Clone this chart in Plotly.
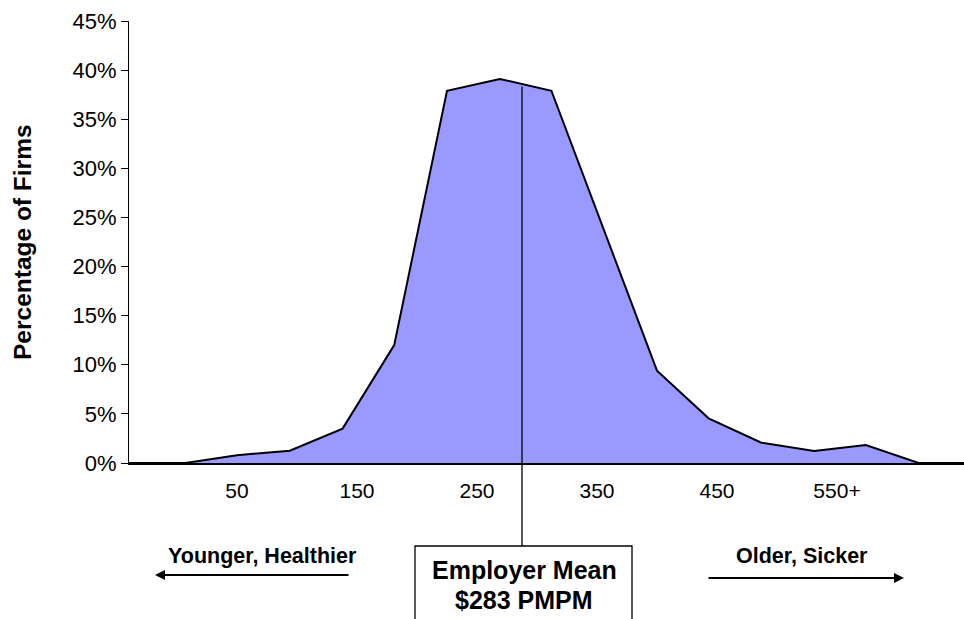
import plotly.graph_objects as go

# ---- data ----
# x positions of the plotted points (dollar scale of the category labels)
cost_x = [-40, 7, 50, 94, 138, 181, 225, 269, 312, 356, 400, 443, 487, 531, 574, 618, 662]
# percentage of firms at each point
pct_firms = [0, 0, 0.8, 1.25, 3.5, 12.0, 37.9, 39.1, 37.9, 23.7, 9.4, 4.55, 2.07, 1.22, 1.83, 0, 0]

tick_vals = [50, 150, 250, 350, 450, 550]
tick_text = ["50", "150", "250", "350", "450", "550+"]
y_ticks = [0, 5, 10, 15, 20, 25, 30, 35, 40, 45]
y_tick_text = ["0%", "5%", "10%", "15%", "20%", "25%", "30%", "35%", "40%", "45%"]

mean_line_x = 287.5
mean_label = ["Employer Mean", "$283 PMPM"]
left_label = "Younger, Healthier"
right_label = "Older, Sicker"

FONT = "Liberation Sans, Arial, sans-serif"
W, H = 964, 619
L, R, T, B = 129, 0, 21, 156
PLOT_H = H - T - B
XMIN, XMAX = -40, -40 + (W - L - R) / 1.2


def py(pix):
    """pixel row -> paper y"""
    return (H - B - pix) / PLOT_H


def dx(pix):
    """pixel column -> x data value"""
    return XMIN + (pix - L) / 1.2


fig = go.Figure()
fig.add_trace(go.Scatter(
    x=cost_x, y=pct_firms, mode="lines",
    line=dict(color="black", width=2),
    fill="tozeroy", fillcolor="#9999FF",
    cliponaxis=False, hoverinfo="skip", showlegend=False,
))

shapes = [
    dict(type="line", xref="x", yref="paper", x0=mean_line_x, x1=mean_line_x,
         y0=py(86.5), y1=py(546), line=dict(color="black", width=1.3)),
    dict(type="rect", xref="x", yref="paper", x0=dx(415), x1=dx(632),
         y0=py(546), y1=py(660), line=dict(color="black", width=1.3),
         fillcolor="white", layer="above"),
]

annotations = [
    dict(text="<b>Percentage of Firms</b>", xref="paper", yref="paper", x=0, y=0.5,
         xshift=22 - L, xanchor="center", yanchor="middle", textangle=-90,
         showarrow=False, font=dict(family=FONT, size=24.5, color="black")),
    dict(text="<b>%s</b>" % mean_label[0], xref="x", yref="paper",
         x=dx(524), y=py(570), xanchor="center", yanchor="middle",
         showarrow=False, font=dict(family=FONT, size=25, color="black")),
    dict(text="<b>%s</b>" % mean_label[1], xref="x", yref="paper",
         x=dx(524), y=py(600), xanchor="center", yanchor="middle",
         showarrow=False, font=dict(family=FONT, size=25, color="black")),
    dict(text="<b>%s</b>" % left_label, xref="x", yref="paper",
         x=dx(262.5), y=py(556), xanchor="center", yanchor="middle",
         showarrow=False, font=dict(family=FONT, size=21.5, color="black")),
    dict(text="<b>%s</b>" % right_label, xref="x", yref="paper",
         x=dx(801.5), y=py(556), xanchor="center", yanchor="middle",
         showarrow=False, font=dict(family=FONT, size=21.5, color="black")),
    dict(text="", xref="x", yref="paper", x=dx(155), y=py(575),
         axref="x", ayref="pixel", ax=dx(350), ay=0,
         showarrow=True, arrowhead=2, arrowsize=1, arrowwidth=2, arrowcolor="black"),
    dict(text="", xref="x", yref="paper", x=dx(904), y=py(578),
         axref="x", ayref="pixel", ax=dx(707), ay=0,
         showarrow=True, arrowhead=2, arrowsize=1, arrowwidth=2, arrowcolor="black"),
]

fig.update_layout(
    width=W, height=H,
    margin=dict(l=L, r=R, t=T, b=B, pad=0),
    paper_bgcolor="white", plot_bgcolor="white",
    font=dict(family=FONT, color="black"),
    shapes=shapes, annotations=annotations,
    xaxis=dict(range=[XMIN, XMAX], tickvals=tick_vals, ticktext=tick_text,
               showgrid=False, zeroline=False, showline=True, linecolor="black",
               linewidth=2, ticks="", ticklabelstandoff=8,
               tickfont=dict(family=FONT, size=21, color="black"), fixedrange=True),
    yaxis=dict(range=[0, 45], tickvals=y_ticks, ticktext=y_tick_text,
               showgrid=False, zeroline=False, showline=True, linecolor="black",
               linewidth=1, ticks="outside", ticklen=7, tickcolor="black",
               tickfont=dict(family=FONT, size=22, color="black"), fixedrange=True),
)

fig.write_html("out.html", config={"displayModeBar": False},
               post_script="document.body.style.margin='0';document.body.style.overflow='hidden';")
